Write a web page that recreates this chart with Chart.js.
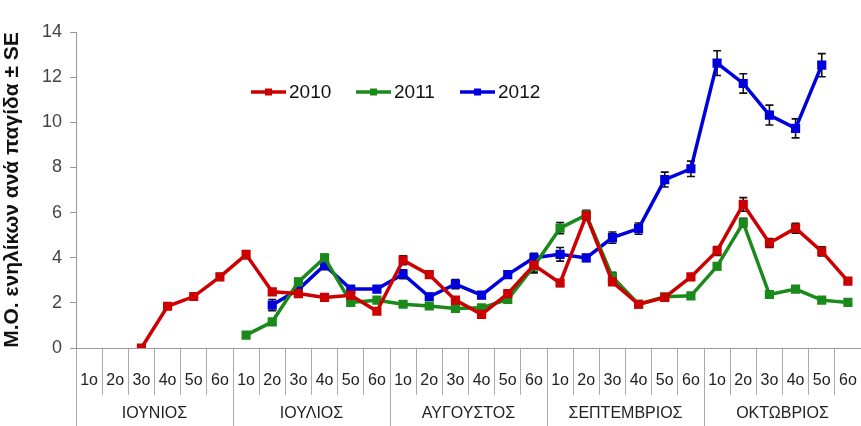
<!DOCTYPE html>
<html>
<head>
<meta charset="utf-8">
<script src="https://cdn.jsdelivr.net/npm/chart.js@4"></script>
<style>
  body { margin: 0; background: #fff; }
  #wrap { width: 861px; height: 426px; }
</style>
</head>
<body>
<div id="wrap"><canvas id="myChart" width="861" height="426"></canvas></div>
<script>
const weeks = ['1o', '2o', '3o', '4o', '5o', '6o'];
const months = ['ΙΟΥΝΙΟΣ', 'ΙΟΥΛΙΟΣ', 'ΑΥΓΟΥΣΤΟΣ', 'ΣΕΠΤΕΜΒΡΙΟΣ', 'ΟΚΤΩΒΡΙΟΣ'];
const labels = months.flatMap(m => weeks.map(w => m + ' ' + w));

const y2010 = [null, null, 0, 1.85, 2.28, 3.15, 4.14, 2.49, 2.41, 2.24, 2.34, 1.63, 3.89, 3.25, 2.12, 1.49, 2.41, 3.67, 2.88, 5.87, 2.93, 1.94, 2.24, 3.15, 4.3, 6.36, 4.65, 5.31, 4.28, 2.96];
const se2010 = [null, null, 0, 0.08, 0.08, 0.15, 0.18, 0.1, 0.1, 0.1, 0.1, 0.12, 0.2, 0.12, 0.12, 0.15, 0.12, 0.3, 0.15, 0.2, 0.15, 0.08, 0.08, 0.12, 0.2, 0.3, 0.2, 0.22, 0.2, 0.1];
const y2011 = [null, null, null, null, null, null, 0.57, 1.16, 2.93, 4.0, 2.02, 2.12, 1.94, 1.86, 1.75, 1.78, 2.15, 3.62, 5.31, 5.9, 3.15, 1.94, 2.27, 2.31, 3.62, 5.55, 2.37, 2.61, 2.12, 2.02];
const se2011 = [null, null, null, null, null, null, 0.05, 0.08, 0.15, 0.15, 0.1, 0.08, 0.06, 0.08, 0.08, 0.08, 0.15, 0.3, 0.25, 0.2, 0.2, 0.08, 0.08, 0.1, 0.15, 0.2, 0.08, 0.08, 0.06, 0.06];
const y2012 = [null, null, null, null, null, null, null, 1.9, 2.59, 3.67, 2.61, 2.61, 3.27, 2.27, 2.83, 2.34, 3.25, 4.0, 4.15, 3.99, 4.89, 5.29, 7.46, 7.94, 12.62, 11.72, 10.32, 9.73, 12.53, null];
const se2012 = [null, null, null, null, null, null, null, 0.25, 0.15, 0.2, 0.15, 0.12, 0.2, 0.15, 0.2, 0.15, 0.15, 0.2, 0.3, 0.15, 0.25, 0.25, 0.33, 0.34, 0.55, 0.43, 0.44, 0.42, 0.51, null];

const fontName = '"Liberation Sans", Arial, sans-serif';

function series(label, data, se, color) {
  return {
    label: label,
    data: data,
    se: se,
    borderColor: color,
    backgroundColor: color,
    borderWidth: 3.5,
    pointStyle: 'rect',
    pointRadius: 4,
    spanGaps: false,
    tension: 0,
  };
}

// error bars (± SE) drawn through the y scale
const errorBars = {
  id: 'errorBars',
  beforeDatasetsDraw(chart) {
    const ctx = chart.ctx;
    const y = chart.scales.y;
    ctx.save();
    ctx.strokeStyle = '#111';
    ctx.lineWidth = 1.6;
    chart.data.datasets.forEach((ds, i) => {
      const meta = chart.getDatasetMeta(i);
      meta.data.forEach((pt, j) => {
        const v = ds.data[j];
        const e = ds.se[j];
        if (v == null || !e) return;
        const top = y.getPixelForValue(v + e);
        const bot = y.getPixelForValue(v - e);
        ctx.beginPath();
        ctx.moveTo(pt.x, top); ctx.lineTo(pt.x, bot);
        ctx.moveTo(pt.x - 4, top); ctx.lineTo(pt.x + 4, top);
        ctx.moveTo(pt.x - 4, bot); ctx.lineTo(pt.x + 4, bot);
        ctx.stroke();
      });
    });
    ctx.restore();
  },
};

// legend inside the plot, like the original
const innerLegend = {
  id: 'innerLegend',
  afterDraw(chart) {
    const ctx = chart.ctx;
    const xs = [251, 356, 460];
    const ly = 92;
    ctx.save();
    ctx.font = '19px ' + fontName;
    ctx.textBaseline = 'middle';
    chart.data.datasets.forEach((ds, i) => {
      const x = xs[i];
      ctx.strokeStyle = ds.borderColor;
      ctx.lineWidth = 3.5;
      ctx.beginPath();
      ctx.moveTo(x, ly); ctx.lineTo(x + 35, ly);
      ctx.stroke();
      ctx.fillStyle = ds.borderColor;
      ctx.fillRect(x + 14, ly - 3.5, 7, 7);
      ctx.fillStyle = '#111';
      ctx.fillText(ds.label, x + 38, ly + 1);
    });
    ctx.restore();
  },
};

function noSidePadding(scale) {
  scale.paddingLeft = 0;
  scale.paddingRight = 0;
}

const ctx = document.getElementById('myChart');

let chart = new Chart(ctx, {
  type: 'line',
  data: {
    labels: labels,
    datasets: [
      series('2010', y2010, se2010, '#cc0000'),
      series('2011', y2011, se2011, '#1a8a1a'),
      series('2012', y2012, se2012, '#0000dd'),
    ],
  },
  options: {
    responsive: false,
    animation: false,
    layout: { autoPadding: false, padding: { top: 32, right: 0, left: 0, bottom: 0 } },
    plugins: {
      legend: { display: false },
      tooltip: { enabled: false },
    },
    scales: {
      y: {
        min: 0,
        max: 14,
        ticks: {
          stepSize: 2,
          color: '#444',
          padding: 8,
          font: { family: fontName, size: 18 },
        },
        grid: {
          drawOnChartArea: false,
          drawTicks: true,
          tickLength: 6,
          color: '#999',
        },
        border: { color: '#999' },
        title: {
          display: true,
          text: 'Μ.Ο. ενηλίκων ανά παγίδα ± SE',
          color: '#111',
          font: { family: fontName, size: 21, weight: 'bold' },
          padding: { top: 0, bottom: 4 },
        },
        afterFit(scale) { scale.width = 76; },
      },
      x: {
        offset: true,
        ticks: {
          autoSkip: false,
          maxRotation: 0,
          color: '#222',
          padding: -24,
          font: { family: fontName, size: 16 },
          callback(v, i) { return weeks[i % 6]; },
        },
        grid: {
          offset: true,
          drawOnChartArea: false,
          drawTicks: true,
          tickLength: 47,
          color: '#aaa',
        },
        border: { color: '#999' },
        afterFit(scale) { scale.height = 47; noSidePadding(scale); },
      },
      x2: {
        type: 'category',
        position: 'bottom',
        labels: months,
        offset: true,
        ticks: {
          color: '#222',
          padding: -22,
          font: { family: fontName, size: 16 },
        },
        grid: {
          offset: true,
          drawOnChartArea: false,
          drawTicks: true,
          tickLength: 31,
          color: '#aaa',
        },
        border: { display: false },
        afterFit(scale) { scale.height = 31; noSidePadding(scale); },
      },
    },
  },
  plugins: [errorBars, innerLegend],
});
</script>
</body>
</html>
